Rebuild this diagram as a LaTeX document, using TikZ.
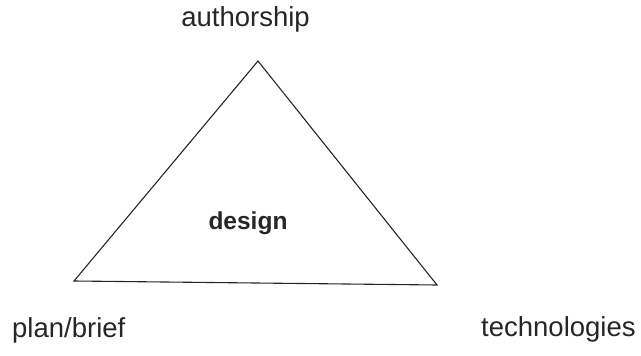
\documentclass[tikz,border=0pt]{standalone}
\usepackage{fontspec}
\setmainfont{Liberation Sans}
\begin{document}
\begin{tikzpicture}[x=1pt,y=-1pt,
  lbl/.style={inner sep=0pt,anchor=base,font=\fontsize{27.5}{32}\selectfont,text=black!85},
  side/.style={draw=black!85,line width=1.1pt,line join=miter}]
\useasboundingbox (0,0) rectangle (641,356);
\coordinate (top) at (258,61);
\coordinate (bl) at (74,281);
\coordinate (br) at (437,285);
\draw[side] (top) -- (bl) -- (br) -- cycle;
\node[lbl] (author) at (245.5,27) {authorship};
\node[lbl,anchor=base west] (plan) at (12,337) {plan/brief};
\node[lbl,anchor=base west] (tech) at (481,336) {technologies};
\node[lbl,font=\fontsize{24.5}{30}\selectfont\bfseries] (design) at (248,229) {design};
\end{tikzpicture}
\end{document}
